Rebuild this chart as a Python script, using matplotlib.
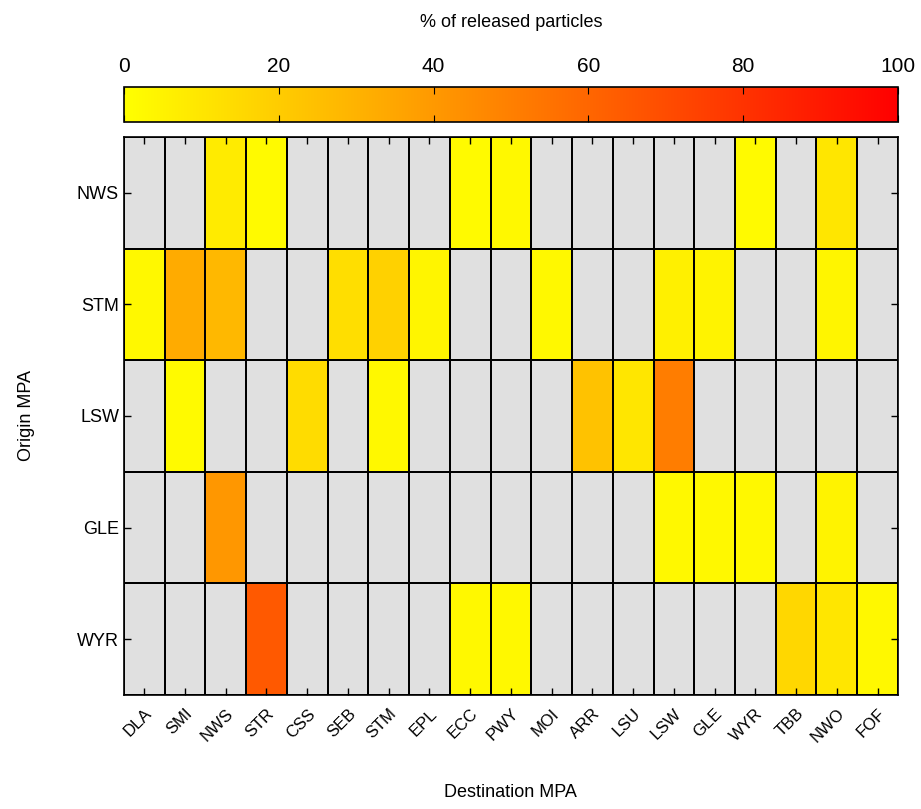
import numpy as np
import matplotlib
matplotlib.use("Agg")
import matplotlib.pyplot as plt

plt.rcParams['font.family'] = ['Liberation Sans', 'DejaVu Sans']

dest = ["DLA", "SMI", "NWS", "STR", "CSS", "SEB", "STM", "EPL", "ECC", "PWY",
        "MOI", "ARR", "LSU", "LSW", "GLE", "WYR", "TBB", "NWO", "FOF"]
origin = ["NWS", "STM", "LSW", "GLE", "WYR"]

row_NWS = [0, 0, 8, 2, 0, 0, 0, 0, 2, 3, 0, 0, 0, 0, 0, 2, 0, 10, 0]
row_STM = [3, 33, 28, 0, 0, 13, 18, 4, 0, 0, 3, 0, 0, 6, 5, 0, 0, 4, 0]
row_LSW = [0, 2, 0, 0, 14, 0, 3, 0, 0, 0, 0, 24, 10, 51, 0, 0, 0, 0, 0]
row_GLE = [0, 0, 41, 0, 0, 0, 0, 0, 0, 0, 0, 0, 0, 3, 3, 3, 0, 5, 0]
row_WYR = [0, 0, 0, 65, 0, 0, 0, 0, 3, 3, 0, 0, 0, 0, 0, 0, 16, 10, 3]

data = np.array([row_NWS, row_STM, row_LSW, row_GLE, row_WYR], dtype=float)
masked = np.ma.masked_where(data <= 0, data)

fig = plt.figure(figsize=(9.21, 8.09), dpi=100)
ax = fig.add_axes([0.1345, 0.141, 0.8405, 0.6897])
cax = fig.add_axes([0.1345, 0.849, 0.8405, 0.043])

cmap = plt.get_cmap('autumn_r').copy()
cmap.set_bad('#e0e0e0')
ax.set_facecolor('#e0e0e0')

mesh = ax.pcolormesh(np.arange(len(dest) + 1), np.arange(len(origin) + 1), masked,
                     cmap=cmap, vmin=0, vmax=100, edgecolors='black', linewidth=1.2)
for i in range(len(dest) + 1):
    ax.axvline(i, color='black', lw=1.2)
for j in range(len(origin) + 1):
    ax.axhline(j, color='black', lw=1.2)

ax.set_xlim(0, len(dest))
ax.set_ylim(len(origin), 0)
ax.set_xticks(np.arange(len(dest)) + 0.5)
ax.set_xticklabels(dest, rotation=45, ha='right', rotation_mode='anchor', fontsize=12)
ax.set_yticks(np.arange(len(origin)) + 0.5)
ax.set_yticklabels(origin, fontsize=13)
ax.tick_params(axis='both', direction='in', top=True, right=True, length=5, width=1)
ax.tick_params(axis='x', pad=8)
for s in ax.spines.values():
    s.set_linewidth(1.2)

ax.set_xlabel('Destination MPA', fontsize=13, labelpad=28)
ax.set_ylabel('Origin MPA', fontsize=13, labelpad=30)

cb = fig.colorbar(mesh, cax=cax, orientation='horizontal')
cb.set_ticks([0, 20, 40, 60, 80, 100])
cax.xaxis.set_ticks_position('both')
cax.xaxis.set_label_position('top')
cax.tick_params(axis='x', direction='in', length=5, labeltop=True, labelbottom=False,
                labelsize=15, pad=8)
cb.outline.set_linewidth(1.2)
cb.set_label('% of released particles', fontsize=13, labelpad=22)

fig.savefig('out.png', dpi=100)
